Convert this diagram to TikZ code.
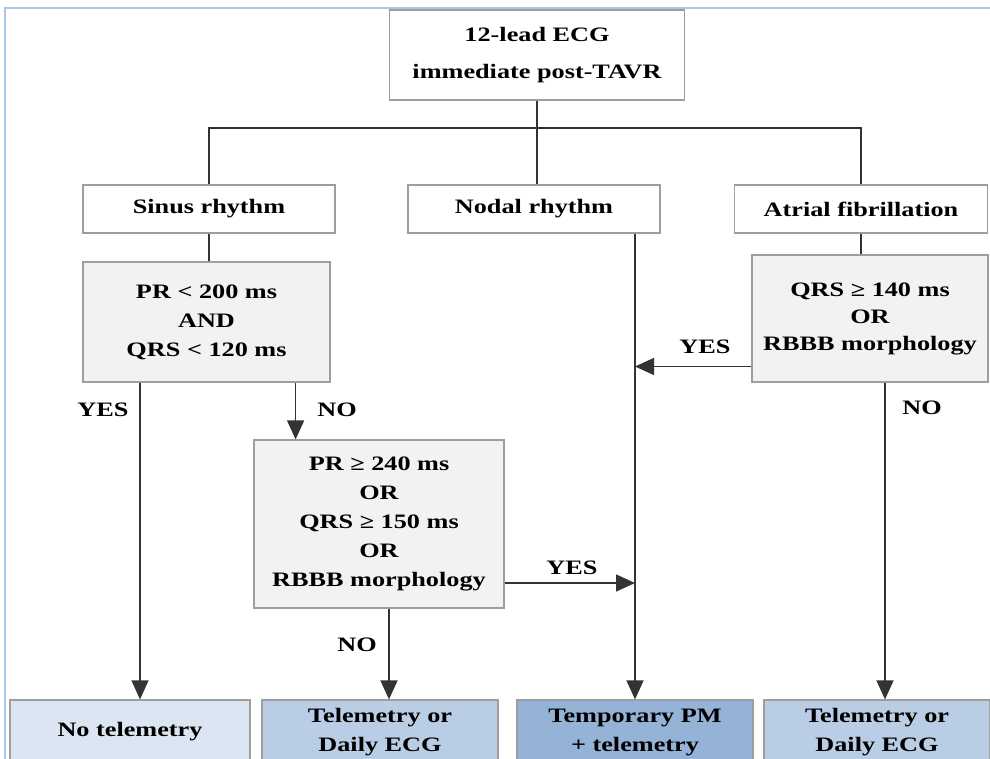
\documentclass[tikz,border=0pt]{standalone}
\usepackage{fontspec}
\setmainfont{Liberation Serif}[FakeStretch=1.28]
\usetikzlibrary{arrows.meta}
\usetikzlibrary{positioning}
\definecolor{boxline}{HTML}{9E9E9E}
\definecolor{testfill}{HTML}{F2F2F2}
\definecolor{linkgray}{HTML}{333333}
\definecolor{frameblue}{HTML}{A9C6EE}
\definecolor{outA}{HTML}{DCE6F2}
\definecolor{outB}{HTML}{B9CDE5}
\definecolor{outC}{HTML}{95B3D7}
\tikzset{main node/.style={draw=boxline,line width=1.2pt,fill=white,align=center,inner sep=0pt,
            font=\bfseries\fontsize{20.5}{29}\selectfont},
         test node/.style={main node,fill=testfill},
         out node/.style={main node,minimum height=64pt,minimum width=236pt},
         link/.style={draw=linkgray,line width=1.4pt},
         arr/.style={link,-{Triangle[width=17pt,length=19pt]}},
         tag/.style={font=\bfseries\fontsize{20.5}{22}\selectfont,inner sep=0pt}
            }

\begin{document}
\begin{tikzpicture}[x=1pt,y=-1pt]
        \useasboundingbox (0,0) rectangle (990,759);
        \clip (0,0) rectangle (990,759);
        \draw[frameblue,line width=2pt] (5,770) -- (5,8) -- (995,8);

        \node[main node,minimum width=295pt,minimum height=90pt] (top) at (537,55)
            {12-lead ECG\\[8pt]immediate post-TAVR};
        \coordinate (bus) at (537,128);

        \node[main node,minimum width=252pt,minimum height=48pt] (sinus) at (209,209) {Sinus rhythm};
        \node[main node,minimum width=252pt,minimum height=48pt] (nodal) at (534,209) {Nodal rhythm};
        \node[main node,minimum width=253pt,minimum height=48pt] (af) at (861,209) {Atrial fibrillation};

        \node[test node,minimum width=247pt,minimum height=120pt] (q1) at (206.5,322)
            {PR < 200 ms\\AND\\QRS < 120 ms};
        \node[test node,minimum width=250pt,minimum height=168pt] (q2) at (379,524)
            {PR ≥ 240 ms\\OR\\QRS ≥ 150 ms\\OR\\RBBB morphology};
        \node[test node,minimum width=236pt,minimum height=127pt,font=\bfseries\fontsize{20.5}{27}\selectfont] (q3) at (870,318.5)
            {QRS ≥ 140 ms\\OR\\RBBB morphology};

        \node[out node,fill=outA,minimum width=240pt] (out1) at (130,732) {No telemetry};
        \node[out node,fill=outB] (out2) at (380,732) {Telemetry or\\Daily ECG};
        \node[out node,fill=outC] (out3) at (635,732) {Temporary PM\\+ telemetry};
        \node[out node,fill=outB,minimum width=226pt] (out4) at (877,732) {Telemetry or\\Daily ECG};

        % tree from the first ECG
        \draw[link] (top) -- (bus);
        \draw[link] (sinus.north) |- (bus) -| (af.north);
        \draw[link] (bus) -- (bus |- nodal.north);
        \draw[link] (sinus.south) -- (sinus.south |- q1.north);
        \draw[link] (af.south) -- (af.south |- q3.north);

        % decisions
        \draw[arr] ([xshift=10pt]out1.north |- q1.south) -- ([xshift=10pt]out1.north);
        \draw[arr] ([xshift=-35pt]q1.south east) -- ([xshift=-35pt]q1.south east |- q2.north);
        \draw[arr] ([yshift=-59pt]q2.east) -- ([yshift=-59pt]q2.east -| out3.north);
        \draw[arr] ([xshift=10pt]q2.south) -- ([xshift=10pt]q2.south |- out2.north);
        \draw[arr] (nodal.south -| out3.north) -- (out3.north);
        \draw[arr] ([yshift=-48pt]q3.west) -- ([yshift=-48pt]q3.west -| out3.north);
        \draw[arr] ([xshift=15pt]q3.south) -- ([xshift=15pt]q3.south |- out4.north);

        \node[tag] (yes1) at (103,410) {YES};
        \node[tag] (no1) at (337,410) {NO};
        \node[tag] (yes2) at (572,568) {YES};
        \node[tag] (no2) at (357,645) {NO};
        \node[tag] (yes3) at (705,347) {YES};
        \node[tag] (no3) at (922,408) {NO};
      \end{tikzpicture}
\end{document}
